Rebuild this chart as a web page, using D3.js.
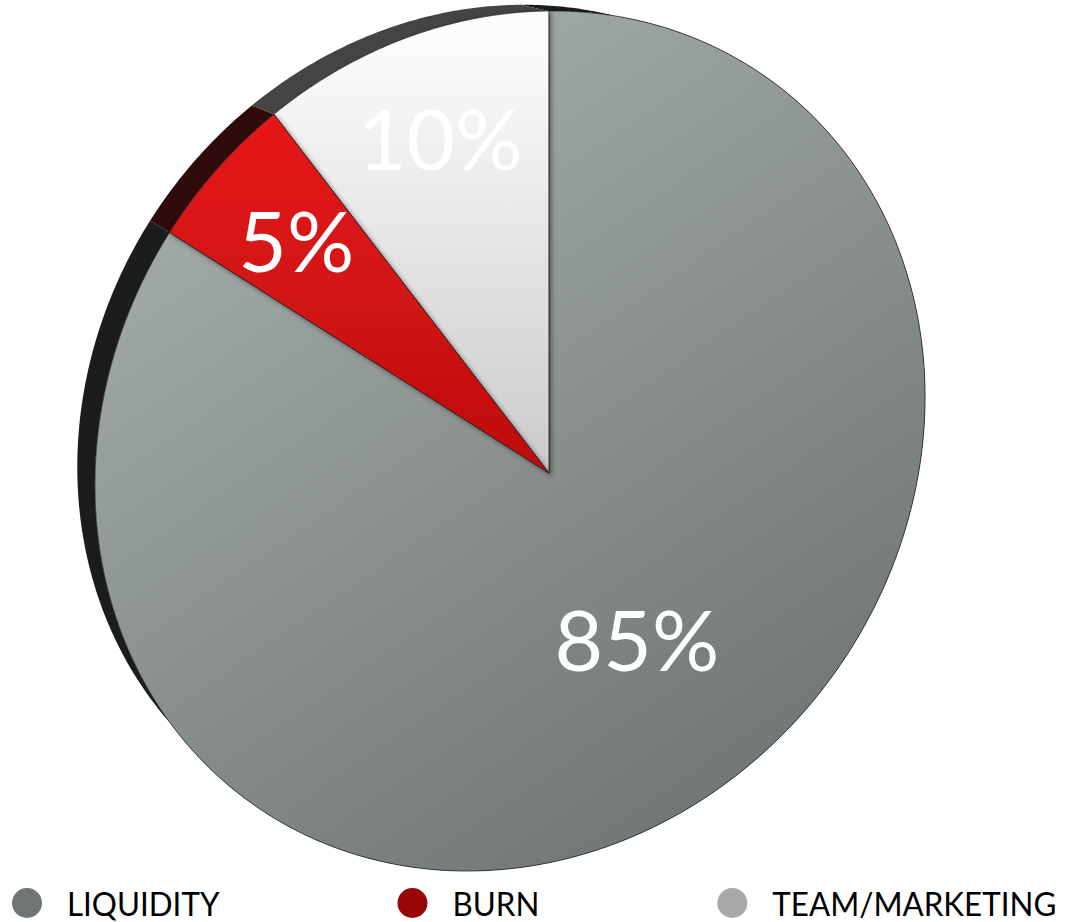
<!DOCTYPE html>
<html lang="en">
<head>
<meta charset="UTF-8">
<title>Token Allocation</title>
<style>
  body { margin: 0; background: #fff; }
  text { font-family: Lato, "Open Sans", sans-serif; }
  .pct { fill: #fff; text-anchor: middle; font-size: 84px; }
  .legend text { fill: #000; font-size: 33px; }
</style>
<script src="https://cdn.jsdelivr.net/npm/d3@7/dist/d3.min.js"></script>
</head>
<body>
<svg id="chart" width="1073" height="922"></svg>
<script>
  // data
  const categories = ['LIQUIDITY', 'BURN', 'TEAM/MARKETING']
  const shares = [85, 5, 10]
  const labels = ['85%', '5%', '10%']

  // colours
  const faceTop = ['#a8b1ad', '#ef1515', '#fcfcfc']
  const faceBottom = ['#6c726e', '#bd1010', '#cbcbcb']
  const sideColors = ['#1b1d1c', '#2f0b0b', '#444444']
  const legendColors = ['#6f7571', '#990606', '#a8a8a8']

  // layout of the tilted disc
  const P = [549, 473]              // where the pie centre lands
  const C = [510, 441]              // centre of the outline ellipse
  const A = 445, B = 399, tilt = -54.5 * Math.PI / 180
  const depth = [-28, -17], depthScale = 0.975

  const svg = d3.select('#chart')

  function rotate([x, y], a) {
    const c = Math.cos(a), s = Math.sin(a)
    return [x * c - y * s, x * s + y * c]
  }

  // P inside the unit circle of the ellipse frame
  const pn = (() => {
    const [x, y] = rotate([P[0] - C[0], P[1] - C[1]], -tilt)
    return [x / A, y / B]
  })()
  const r = Math.hypot(pn[0], pn[1]), gamma = Math.atan2(pn[1], pn[0])
  const squeeze = Math.sqrt(1 - r * r)

  // projective map: unit disc -> ellipse, with the disc centre sent to P
  function toImage(q, spin) {
    let [x, y] = rotate(q, spin - gamma)
    const w = 1 + r * x
    ;[x, y] = rotate([(x + r) / w, y * squeeze / w], gamma)
    const [ex, ey] = rotate([x * A, y * B], tilt)
    return [C[0] + ex, C[1] + ey]
  }

  // spin the disc so 12 o'clock sits straight above P
  let spin = 0, best = Infinity
  for (let i = 0; i < 7200; i++) {
    const a = i / 7200 * 2 * Math.PI
    const [x, y] = toImage([0, -1], a)
    if (y < P[1] && Math.abs(x - P[0]) < best) { best = Math.abs(x - P[0]); spin = a }
  }

  const point = (angle, frac = 1) => toImage([frac * Math.sin(angle), -frac * Math.cos(angle)], spin)
  const back = ([x, y]) => [C[0] + depth[0] + depthScale * (x - C[0]), C[1] + depth[1] + depthScale * (y - C[1])]

  function arcPoints(a0, a1) {
    const n = Math.max(2, Math.ceil((a1 - a0) / (Math.PI / 360)))
    return d3.range(n + 1).map(i => point(a0 + (a1 - a0) * i / n))
  }

  const line = d3.line()
  const arcs = d3.pie().sort(null).value(d => d)(shares)

  // gradients
  const defs = svg.append('defs')
  arcs.forEach((d, i) => {
    const g = defs.append('linearGradient')
      .attr('id', 'face' + i)
      .attr('gradientUnits', 'userSpaceOnUse')
    if (i === 0) g.attr('x1', 200).attr('y1', 60).attr('x2', 760).attr('y2', 880)
    else g.attr('x1', 0).attr('y1', 40).attr('x2', 0).attr('y2', P[1])
    g.append('stop').attr('offset', 0).attr('stop-color', faceTop[i])
    g.append('stop').attr('offset', 1).attr('stop-color', faceBottom[i])
  })
  defs.append('filter').attr('id', 'shade')
    .attr('x', -0.2).attr('y', -0.2).attr('width', 1.4).attr('height', 1.4)
    .append('feDropShadow')
      .attr('dx', 2).attr('dy', 2).attr('stdDeviation', 2.5)
      .attr('flood-color', '#000').attr('flood-opacity', 0.45)

  // sides of the disc
  svg.append('g').selectAll('path')
    .data(arcs)
    .enter()
    .append('path')
      .attr('fill', (d, i) => sideColors[i])
      .attr('d', d => {
        const front = arcPoints(d.startAngle, d.endAngle)
        const rear = front.map(back).reverse()
        return line(front.concat(rear)) + 'Z'
      })

  // top faces
  const order = [0, 2, 1]
  svg.append('g').selectAll('path')
    .data(order.map(i => arcs[i]))
    .enter()
    .append('path')
      .attr('fill', d => `url(#face${d.index})`)
      .attr('stroke', 'rgba(30,30,30,0.75)')
      .attr('stroke-width', 1)
      .attr('stroke-linejoin', 'round')
      .attr('filter', d => d.index === 0 ? null : 'url(#shade)')
      .attr('d', d => line([P].concat(arcPoints(d.startAngle, d.endAngle))) + 'Z')

  // percentage labels
  svg.append('g').selectAll('text')
    .data(arcs)
    .enter()
    .append('text')
      .attr('class', 'pct')
      .attr('dy', '0.36em')
      .attr('transform', d => {
        const mid = (d.startAngle + d.endAngle) / 2
        const [x, y] = point(mid, d.value > 50 ? 0.5 : 0.785)
        return `translate(${x},${y})`
      })
      .text((d, i) => labels[i])

  // legend (text a little condensed, like the original face)
  const squish = 0.95
  const legend = svg.append('g').attr('class', 'legend')
  let cursor = 12
  categories.forEach((name, i) => {
    legend.append('circle')
      .attr('cx', cursor + 15).attr('cy', 903).attr('r', 15)
      .attr('fill', legendColors[i])
    const t = legend.append('text')
      .attr('transform', `translate(${cursor + 55},916) scale(${squish},1)`)
      .text(name)
    cursor += 55 + t.node().getComputedTextLength() * squish + 178
  })
</script>
</body>
</html>
